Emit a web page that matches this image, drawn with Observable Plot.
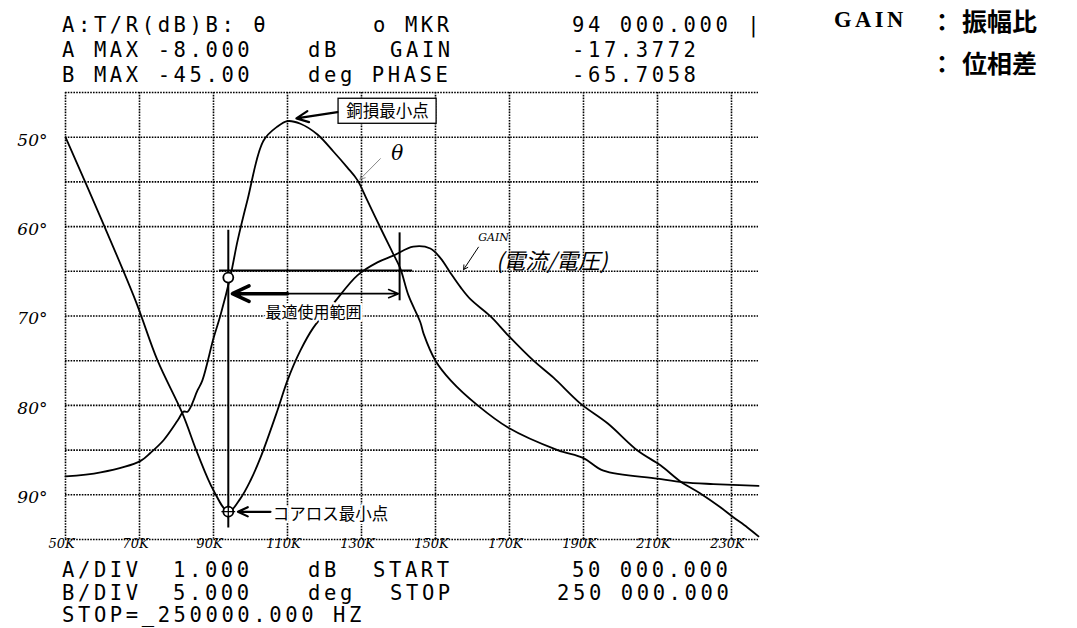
<!DOCTYPE html>
<html><head><meta charset="utf-8">
<script src="https://cdn.jsdelivr.net/npm/d3@7"></script>
<script src="https://cdn.jsdelivr.net/npm/@observablehq/plot@0.6"></script>
<style>
body{margin:0;background:#fff;}
#wrap{position:relative;width:1077px;height:628px;overflow:hidden;background:#fff;}
#chart{position:absolute;left:0;top:0;}
.m{position:absolute;white-space:pre;font-family:"DejaVu Sans Mono",monospace;font-size:20.5px;line-height:17px;letter-spacing:3.6px;color:#000;}
.lg{position:absolute;white-space:pre;color:#000;font-weight:bold;}
</style></head><body>
<div id="wrap"><div id="chart"></div></div>
<script>
// ---- data ----
// GAIN curve: frequency (kHz) and gain (dB); axis A: top -8 dB, 1 dB/div
const gainFreqK = [50, 59.5, 68.9, 74.9, 81.6, 85.7, 90, 94.05, 97.3, 100, 102.7, 107.3, 110, 113.5, 117, 122.4, 128.9, 134.3, 138.6, 144, 148.6, 151.4, 154, 156.8, 159.5, 164.9, 169.7, 176.5, 181.9, 189.2, 196.5, 204.6, 210.8, 216.2, 221.6, 227, 230.3, 234.3, 237.3];
const gainDB   = [-9.0, -10.8, -12.65, -14.0, -15.18, -16.08, -16.9, -17.38, -17.08, -16.68, -16.17, -15.11, -14.44, -13.77, -13.26, -12.72, -12.09, -11.8, -11.65, -11.45, -11.49, -11.71, -12.03, -12.36, -12.63, -13.01, -13.44, -14.0, -14.38, -14.96, -15.4, -16.01, -16.34, -16.7, -16.97, -17.28, -17.49, -17.73, -17.93];
// PHASE (theta) curve: frequency (kHz) and phase magnitude (deg); axis B: top 45 deg, 5 deg/div
const thetaFreqK = [50, 59.5, 70.3, 73, 76.5, 80.3, 81.9, 83, 85.7, 87, 90, 91.9, 94.6, 96.5, 99.2, 103.5, 107.3, 110, 113.5, 118.1, 122.4, 126.2, 128.9, 131.6, 135.9, 138.4, 140.5, 142.7, 145.9, 146.8, 150, 154.1, 161.4, 169.7, 183, 190, 195.4, 210, 217, 225.1, 237.3];
const thetaDeg   = [87.95, 87.5, 86.2, 85.3, 83.9, 81.7, 80.7, 80.7, 78.3, 77.2, 72.5, 69.9, 65.5, 61.6, 57.0, 50.4, 48.8, 48.2, 48.5, 49.7, 51.6, 53.4, 54.8, 57.1, 60.8, 62.9, 64.7, 67.7, 70.7, 72.0, 75.0, 77.2, 80.0, 82.5, 85.0, 85.9, 87.3, 88.2, 88.6, 88.8, 89.0];
// axes
const xTickK = [50, 70, 90, 110, 130, 150, 170, 190, 210, 230];
const yTickDeg = [50, 60, 70, 80, 90];
const gridDeg = [45, 50, 55, 60, 65, 70, 75, 80, 85, 90, 95];
const gainTop = -8, gainPerDiv = 1, degTop = 45, degPerDiv = 5;
// marker
const markerFreqK = 94, markerGain = -17.3772, markerPhase = 65.7058;

// ---- tables ----
const toDeg = g => degTop + (gainTop - g) / gainPerDiv * degPerDiv;
const gainData = gainFreqK.map((f, i) => ({f, v: toDeg(gainDB[i])}));
const thetaData = thetaFreqK.map((f, i) => ({f, v: thetaDeg[i]}));

const handFont = "'DejaVu Serif', serif";
const jpFont = "'Noto Sans CJK JP', sans-serif";

const plot = Plot.plot({
  width: 1077, height: 628,
  marginLeft: 65, marginRight: 319, marginTop: 92, marginBottom: 89,
  x: {domain: [50, 237.3]},
  y: {domain: [95, 45]},
  style: {background: "transparent", color: "#000"},
  marks: [
    Plot.gridX(xTickK, {stroke: "#000", strokeOpacity: 1, strokeWidth: 1.6, strokeDasharray: "1.6,1.2"}),
    Plot.gridY(gridDeg, {stroke: "#000", strokeOpacity: 1, strokeWidth: 1.6, strokeDasharray: "1.6,1.2"}),
    Plot.axisX(xTickK, {tickSize: 0, tickPadding: -1, tickFormat: d => d + "K", fontSize: 13, fontStyle: "italic", fontFamily: handFont, dx: -4, label: null}),
    Plot.axisY(yTickDeg, {tickSize: 0, tickPadding: 18, tickFormat: d => d + "°", fontSize: 17, fontStyle: "italic", fontFamily: handFont, dy: 3, label: null}),
    Plot.line(gainData, {x: "f", y: "v", stroke: "#000", strokeWidth: 1.8, curve: "catmull-rom"}),
    Plot.line(thetaData, {x: "f", y: "v", stroke: "#000", strokeWidth: 1.8, curve: "catmull-rom"}),
    // marker lines / optimal range
    Plot.ruleX([{x: markerFreqK, y1: 60.4, y2: 93.7}], {x: "x", y1: "y1", y2: "y2", stroke: "#000", strokeWidth: 2}),
    Plot.ruleY([{y: 64.9, x1: 91.6, x2: 143.8}], {y: "y", x1: "x1", x2: "x2", stroke: "#000", strokeWidth: 2}),
    Plot.ruleX([{x: 140.3, y1: 60.7, y2: 68.3}], {x: "x", y1: "y1", y2: "y2", stroke: "#000", strokeWidth: 2}),
    Plot.arrow([{x1: 110, x2: 95.1, y: 67.5}], {x1: "x1", x2: "x2", y1: "y", y2: "y", stroke: "#000", strokeWidth: 3.5, headLength: 10, headAngle: 50}),
    Plot.arrow([{x1: 110, x2: 140, y: 67.5}], {x1: "x1", x2: "x2", y1: "y", y2: "y", stroke: "#000", strokeWidth: 1.6, headLength: 10, headAngle: 45}),
    Plot.text([{x: 117, y: 69.7, t: "最適使用範囲"}], {x: "x", y: "y", text: "t", fontSize: 16, fontFamily: jpFont, fill: "#000", stroke: "#fff", strokeWidth: 5}),
    Plot.dot([{x: markerFreqK, y: markerPhase}], {x: "x", y: "y", r: 5, fill: "#fff", stroke: "#000", strokeWidth: 1.8}),
    Plot.dot([{x: markerFreqK, y: toDeg(markerGain)}], {x: "x", y: "y", r: 5, fill: "#fff", stroke: "#000", strokeWidth: 1.8}),
    Plot.dot([{x: markerFreqK, y: toDeg(markerGain)}], {x: "x", y: "y", r: 4.5, symbol: "plus", stroke: "#000", strokeWidth: 1.3}),
    // core-loss minimum
    Plot.arrow([{x1: 105.4, x2: 96.6, y: 91.9}], {x1: "x1", x2: "x2", y1: "y", y2: "y", stroke: "#000", strokeWidth: 2.2, headLength: 8, headAngle: 50}),
    Plot.text([{x: 106, y: 92.2, t: "コアロス最小点"}], {x: "x", y: "y", text: "t", textAnchor: "start", fontSize: 16.5, fontFamily: jpFont, fill: "#000", stroke: "#fff", strokeWidth: 4}),
    // copper-loss minimum box
    Plot.rect([{x1: 123.8, x2: 150.3, y1: 45.7, y2: 48.5}], {x1: "x1", x2: "x2", y1: "y1", y2: "y2", fill: "#fff", stroke: "#000", strokeWidth: 1.3}),
    Plot.text([{x: 137.05, y: 47.15, t: "銅損最小点"}], {x: "x", y: "y", text: "t", fontSize: 16.5, fontFamily: jpFont, fill: "#000"}),
    Plot.arrow([{x1: 123.5, y1: 47.2, x2: 112.4, y2: 47.9}], {x1: "x1", y1: "y1", x2: "x2", y2: "y2", stroke: "#000", strokeWidth: 2.2, headLength: 9, headAngle: 50}),
    // theta label
    Plot.text([{x: 139.7, y: 51.8, t: "θ"}], {x: "x", y: "y", text: "t", fontSize: 20, fontStyle: "italic", fontFamily: handFont, fill: "#000"}),
    Plot.arrow([{x1: 135.1, y1: 52.4, x2: 129.6, y2: 54.7}], {x1: "x1", y1: "y1", x2: "x2", y2: "y2", stroke: "#888", strokeWidth: 1, headLength: 8}),
    // gain label
    Plot.text([{x: 165.7, y: 61.2, t: "GAIN"}], {x: "x", y: "y", text: "t", fontSize: 11, fontStyle: "italic", fontFamily: handFont, fill: "#000"}),
    Plot.text([{x: 181.4, y: 63.9, t: "(電流/電圧)"}], {x: "x", y: "y", text: "t", fontSize: 22, fontStyle: "italic", fontFamily: jpFont, fill: "#000"}),
    Plot.arrow([{x1: 161.6, y1: 62.3, x2: 157.6, y2: 64.8}], {x1: "x1", y1: "y1", x2: "x2", y2: "y2", stroke: "#000", strokeWidth: 1, headLength: 7})
  ]
});
document.getElementById("chart").append(plot);

// ---- instrument header / footer text ----
const wrap = document.getElementById("wrap");
function place(txt, x, base, cls, extra) {
  const d = document.createElement("div");
  d.className = cls;
  d.textContent = txt;
  d.style.left = x + "px";
  const fs = (extra && extra.fs) || 20.5;
  const lh = (extra && extra.fs) ? extra.fs : 17;
  const baseOff = (lh - 1.164 * fs) / 2 + 0.928 * fs;
  d.style.top = (base - baseOff) + "px";
  if (extra) {
    if (extra.fs) { d.style.fontSize = extra.fs + "px"; d.style.lineHeight = extra.fs + "px"; }
    if (extra.ff) d.style.fontFamily = extra.ff;
    if (extra.ls != null) d.style.letterSpacing = extra.ls + "px";
  }
  wrap.append(d);
}
const headerRows = [
  [["A:T/R(dB)B: θ", 62], ["o MKR", 373], ["94 000.000 |", 572]],
  [["A MAX -8.000", 62], ["dB", 308], ["GAIN", 390], ["-17.3772", 572]],
  [["B MAX -45.00", 62], ["deg PHASE", 308], ["-65.7058", 572]]
];
const headerBase = [33, 58, 83];
headerRows.forEach((row, i) => row.forEach(([t, x]) => place(t, x, headerBase[i], "m")));
const footerRows = [
  [["A/DIV", 62], ["1.000", 173], ["dB", 308], ["START", 373], ["50 000.000", 572]],
  [["B/DIV", 62], ["5.000", 173], ["deg", 308], ["STOP", 390], ["250 000.000", 557]],
  [["STOP=_250000.000 HZ", 62]]
];
const footerBase = [578, 601, 623];
footerRows.forEach((row, i) => row.forEach(([t, x]) => place(t, x, footerBase[i], "m")));
// legend
place("GAIN", 834, 28, "lg", {fs: 22.5, ff: "'Liberation Serif', serif", ls: 3.5});
place("：", 930, 29, "lg", {fs: 24, ff: "'Noto Sans CJK JP', sans-serif", ls: 0});
place("振幅比", 962, 29, "lg", {fs: 25, ff: "'Noto Sans CJK JP', sans-serif", ls: 0});
place("：", 930, 71, "lg", {fs: 24, ff: "'Noto Sans CJK JP', sans-serif", ls: 0});
place("位相差", 962, 71, "lg", {fs: 25, ff: "'Noto Sans CJK JP', sans-serif", ls: 0});
</script>
</body></html>
